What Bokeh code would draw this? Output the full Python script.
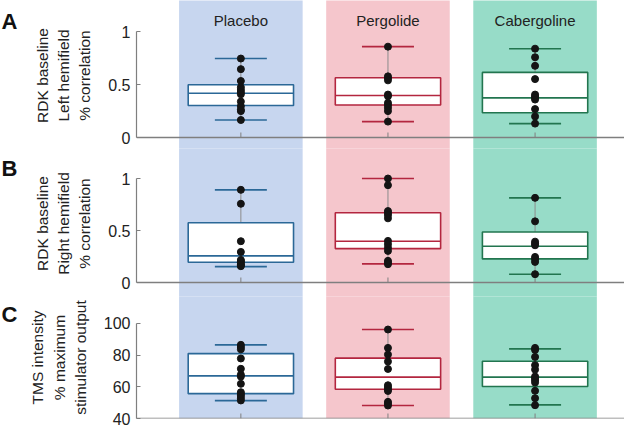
from bokeh.plotting import figure
from bokeh.layouts import column, row
from bokeh.models import Range1d, Span, FixedTicker
from bokeh.core.properties import value
from bokeh.embed import file_html
from bokeh.resources import INLINE
import math

# ---------------- data ----------------
categories = ["Placebo", "Pergolide", "Cabergoline"]
positions = [1, 2, 3]
panel_letters = ["A", "B", "C"]

# Panel A: RDK baseline, left hemifield (% correlation)
a_placebo = [0.745, 0.645, 0.533, 0.474, 0.449, 0.427, 0.408, 0.339, 0.296, 0.262, 0.249, 0.165]
a_pergolide = [0.857, 0.577, 0.561, 0.539, 0.405, 0.390, 0.327, 0.306, 0.280, 0.249, 0.150]
a_cabergoline = [0.838, 0.757, 0.676, 0.551, 0.405, 0.390, 0.374, 0.358, 0.268, 0.199, 0.131]
a_q1 = [0.302, 0.306, 0.234]
a_median = [0.418, 0.396, 0.374]
a_q3 = [0.498, 0.564, 0.614]
a_low = [0.165, 0.150, 0.131]
a_high = [0.745, 0.857, 0.838]

# Panel B: RDK baseline, right hemifield (% correlation)
b_placebo = [0.891, 0.757, 0.397, 0.294, 0.217, 0.205, 0.192, 0.176, 0.165, 0.157]
b_pergolide = [1.0, 0.936, 0.687, 0.670, 0.648, 0.617, 0.400, 0.368, 0.335, 0.304, 0.208, 0.192, 0.176]
b_cabergoline = [0.814, 0.588, 0.393, 0.374, 0.358, 0.246, 0.224, 0.198, 0.080]
b_q1 = [0.195, 0.326, 0.227]
b_median = [0.256, 0.396, 0.348]
b_q3 = [0.575, 0.670, 0.486]
b_low = [0.153, 0.179, 0.080]
b_high = [0.891, 1.0, 0.814]

# Panel C: TMS intensity (% maximum stimulator output)
c_placebo = [86.5, 85.1, 83.7, 77.9, 71.4, 67.7, 66.5, 61.9, 56.6, 55.4, 54.3, 52.8, 51.4]
c_pergolide = [96.2, 84.6, 80.4, 76.0, 71.3, 61.0, 59.8, 58.5, 57.4, 50.5, 49.4, 48.2]
c_cabergoline = [84.6, 83.3, 78.9, 73.7, 70.9, 66.5, 65.5, 64.2, 62.7, 57.5, 52.8, 48.4]
c_q1 = [55.7, 58.5, 60.2]
c_median = [66.9, 66.1, 66.1]
c_q3 = [81.0, 78.1, 76.2]
c_low = [51.3, 48.2, 48.6]
c_high = [86.5, 96.2, 84.0]

band_colors = ["#c7d6ef", "#f5c6cc", "#97dcc8"]
box_colors = ["#2b6897", "#b3263f", "#22754f"]

FONT = "Liberation Sans"
AXIS_GREY = "#7f7f7f"
TEXT = "#222222"

BOX_W = 0.716
BAND_W = 0.84
LETTER_W = 26
TOTAL_H = 427


def panel(height, y_start, y_end, bounds, ticks, overrides, ylabel,
          groups, q1, med, q3, lo, hi, zero, show_names=False, names_y=None,
          border_bottom=0, extend_below=True, overlap=0):
    p = figure(width=624 - LETTER_W, height=height, output_backend="svg", toolbar_location=None,
               x_range=Range1d(0.2905, 3.608), y_range=Range1d(y_start, y_end),
               min_border_left=133 - LETTER_W, min_border_right=0, min_border_top=0,
               min_border_bottom=border_bottom, x_axis_location=None, title=None)
    if overlap:
        p.styles = {"margin-top": f"-{overlap}px"}
    p.outline_line_color = None
    p.xgrid.visible = False
    p.ygrid.visible = False
    p.background_fill_color = "white"
    p.border_fill_color = "white"

    # background bands (run past the frame edges so that stacked panels join up)
    span = y_end - y_start
    p.quad(left=[x - BAND_W / 2 for x in positions], right=[x + BAND_W / 2 for x in positions],
           bottom=(y_start - span) if extend_below else y_start, top=y_end + span,
           fill_color=band_colors, line_color=None, level="image")

    # x-axis line and inward ticks
    p.add_layout(Span(location=zero, dimension="width", line_color=AXIS_GREY, line_width=1.3))
    p.ray(x=positions, y=zero, length=5, length_units="screen", angle=math.pi / 2,
          line_color=AXIS_GREY, line_width=1)

    # whisker stems
    p.segment(x0=positions, y0=q3, x1=positions, y1=hi, line_color="#8c8c8c", line_width=1)
    p.segment(x0=positions, y0=q1, x1=positions, y1=lo, line_color="#8c8c8c", line_width=1)
    # caps
    p.scatter(x=positions, y=hi, marker="dash", size=52, line_color=box_colors, line_width=1.6)
    p.scatter(x=positions, y=lo, marker="dash", size=52, line_color=box_colors, line_width=1.6)
    # boxes
    p.vbar(x=positions, width=BOX_W, top=q3, bottom=q1, fill_color="white",
           line_color=box_colors, line_width=1.6)
    p.segment(x0=[x - BOX_W / 2 for x in positions], y0=med,
              x1=[x + BOX_W / 2 for x in positions], y1=med,
              line_color=box_colors, line_width=1.6)
    # points
    xs, ys = [], []
    for x, g in zip(positions, groups):
        xs += [x] * len(g)
        ys += g
    p.scatter(x=xs, y=ys, size=7, fill_color="#141414", line_color="#141414")

    if show_names:
        p.text(x=positions, y=[names_y] * 3, text=categories, text_font=value(FONT),
               text_font_size="15px", text_align="center", text_baseline="middle",
               text_color=TEXT)

    ax = p.yaxis[0]
    ax.ticker = FixedTicker(ticks=ticks)
    ax.bounds = bounds
    ax.major_label_overrides = overrides
    ax.minor_tick_line_color = None
    ax.major_tick_in = 4
    ax.major_tick_out = 0
    ax.axis_line_color = AXIS_GREY
    ax.major_tick_line_color = AXIS_GREY
    ax.axis_line_width = 1.2
    ax.major_label_text_font = FONT
    ax.major_label_text_font_size = "16px"
    ax.major_label_text_color = TEXT
    ax.major_label_standoff = 6
    ax.axis_label = ylabel
    ax.axis_label_text_font = FONT
    ax.axis_label_text_font_size = "15.5px"
    ax.axis_label_text_font_style = "normal"
    ax.axis_label_text_color = TEXT
    ax.axis_label_text_line_height = 1.25
    ax.axis_label_standoff = 12
    return p


ov01 = {0: "0", 0.5: "0.5", 1: "1"}
pA = panel(150, -0.1226, 1.2925, (0, 1), [0, 0.5, 1], ov01,
           "RDK baseline\nLeft hemifield\n% correlation",
           [a_placebo, a_pergolide, a_cabergoline], a_q1, a_median, a_q3, a_low, a_high,
           0, show_names=True, names_y=1.104)
pB = panel(150, -0.1538, 1.2885, (0, 1), [0, 0.5, 1], ov01,
           "RDK baseline\nRight hemifield\n% correlation",
           [b_placebo, b_pergolide, b_cabergoline], b_q1, b_median, b_q3, b_low, b_high,
           0, overlap=2)
pC = panel(131, 40, 117.05, (40, 100), [40, 60, 80, 100], {},
           "TMS intensity\n% maximum\nstimulator output",
           [c_placebo, c_pergolide, c_cabergoline], c_q1, c_median, c_q3, c_low, c_high,
           40, border_bottom=9, extend_below=False, overlap=2)

# narrow strip carrying the panel letters (pixel coordinates, top = 0)
letters = figure(width=LETTER_W, height=TOTAL_H, output_backend="svg", toolbar_location=None,
                 x_range=Range1d(0, LETTER_W), y_range=Range1d(TOTAL_H, 0),
                 min_border=0, x_axis_location=None, y_axis_location=None, title=None)
letters.outline_line_color = None
letters.xgrid.visible = False
letters.ygrid.visible = False
letters.text(x=[1, 1, 1], y=[21, 168, 314], text=panel_letters, text_font=value(FONT),
             text_font_size="22px", text_font_style="bold", text_baseline="middle",
             text_align="left", text_color="#111111")

layout = row(letters, column(pA, pB, pC, spacing=0), spacing=0)
open("out.html", "w").write(file_html(layout, INLINE))
